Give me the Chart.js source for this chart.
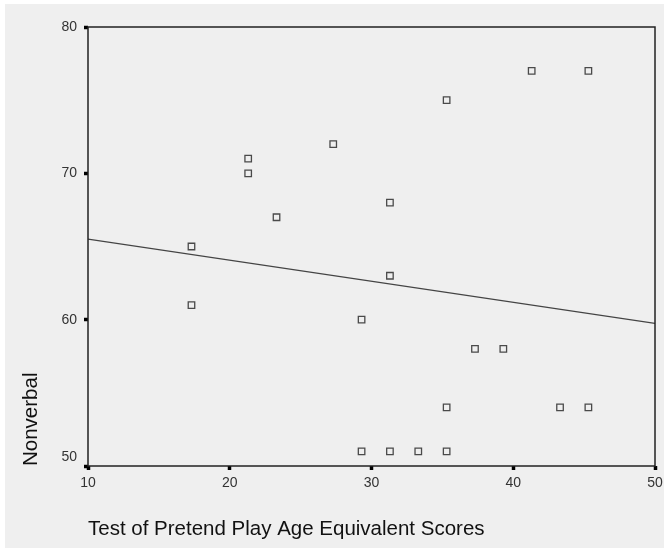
<!DOCTYPE html>
<html>
<head>
<meta charset="utf-8">
<script src="https://cdn.jsdelivr.net/npm/chart.js@4.4.0/dist/chart.umd.min.js"></script>
<style>
  html, body { margin: 0; padding: 0; background: #ffffff; }
  #wrap { position: absolute; left: 5px; top: 4px; width: 659px; height: 544px; background: #efefef; }
</style>
</head>
<body>
<div id="wrap"><canvas id="chartCanvas" width="659" height="544"></canvas></div>
<script>
// Test of Pretend Play age equivalent scores vs nonverbal
const playScores = [17.3, 17.3, 21.3, 21.3, 23.3, 27.3, 29.3, 29.3, 31.3, 31.3, 31.3,
                    33.3, 35.3, 35.3, 35.3, 37.3, 39.3, 41.3, 43.3, 45.3, 45.3];
const nonverbal  = [65, 61, 71, 70, 67, 72, 60, 51, 68, 63, 51,
                    51, 75, 54, 51, 58, 58, 77, 54, 77, 54];

// fit line end points
const fitX = [10, 50];
const fitY = [65.5, 59.75];

const xTicks = [10, 20, 30, 40, 50];
const yTicks = [50, 60, 70, 80];

const font = "'Liberation Sans', Arial, sans-serif";

// box round the plot and the shifted bottom y label (as SPSS draws it)
const framePlugin = {
    id: "frame",
    afterDraw(chart) {
        const ctx = chart.ctx;
        const a = chart.chartArea;
        ctx.save();
        ctx.strokeStyle = "#222";
        ctx.lineWidth = 1.5;
        ctx.strokeRect(a.left, a.top, a.right - a.left, a.bottom - a.top);
        const ys = chart.scales.y;
        ctx.fillStyle = "#333";
        ctx.font = "14px " + font;
        ctx.textAlign = "right";
        ctx.textBaseline = "middle";
        ctx.fillText("50", a.left - 11, ys.getPixelForValue(50) - 9);
        ctx.restore();
    }
};

const ctx = document.getElementById("chartCanvas").getContext("2d");
const chart = new Chart(ctx, {
    type: "scatter",
    data: {
        datasets: [
            {
                label: "points",
                data: playScores.map((v, i) => ({ x: v, y: nonverbal[i] })),
                pointStyle: "rect",
                pointRadius: 4.6,
                borderColor: "#4a4a4a",
                borderWidth: 1.3,
                backgroundColor: "rgba(0,0,0,0)",
            },
            {
                label: "fit",
                data: fitX.map((v, i) => ({ x: v, y: fitY[i] })),
                showLine: true,
                pointRadius: 0,
                borderColor: "#444",
                borderWidth: 1.2,
                fill: false,
            },
        ],
    },
    options: {
        responsive: false,
        animation: false,
        layout: { padding: { left: 10, top: 23, right: 9, bottom: 2 } },
        plugins: {
            legend: { display: false },
            tooltip: { enabled: false },
        },
        scales: {
            x: {
                type: "linear",
                min: 10,
                max: 50,
                afterBuildTicks: s => { s.ticks = xTicks.map(v => ({ value: v })); },
                afterFit: s => { s.height = 80; s.paddingRight = 0; s.paddingLeft = 0; },
                grid: { drawOnChartArea: false, color: "#000", tickLength: 4, tickWidth: 3.5 },
                border: { display: false },
                ticks: { color: "#333", font: { family: font, size: 14 }, padding: 5, maxRotation: 0 },
                title: {
                    display: true,
                    text: "Test of Pretend Play Age Equivalent Scores",
                    align: "start",
                    color: "#111",
                    font: { family: font, size: 20.5 },
                },
            },
            y: {
                type: "linear",
                min: 50,
                max: 80,
                afterBuildTicks: s => { s.ticks = yTicks.map(v => ({ value: v })); },
                afterFit: s => { s.width = 73; },
                grid: { drawOnChartArea: false, color: "#000", tickLength: 4, tickWidth: 3.5 },
                border: { display: false },
                ticks: {
                    color: "#333",
                    font: { family: font, size: 14 },
                    padding: 7,
                    callback: v => (v === 50 ? "" : v),
                },
                title: {
                    display: true,
                    text: "Nonverbal",
                    align: "start",
                    color: "#111",
                    font: { family: font, size: 20.5 },
                },
            },
        },
    },
    plugins: [framePlugin],
});
</script>
</body>
</html>
